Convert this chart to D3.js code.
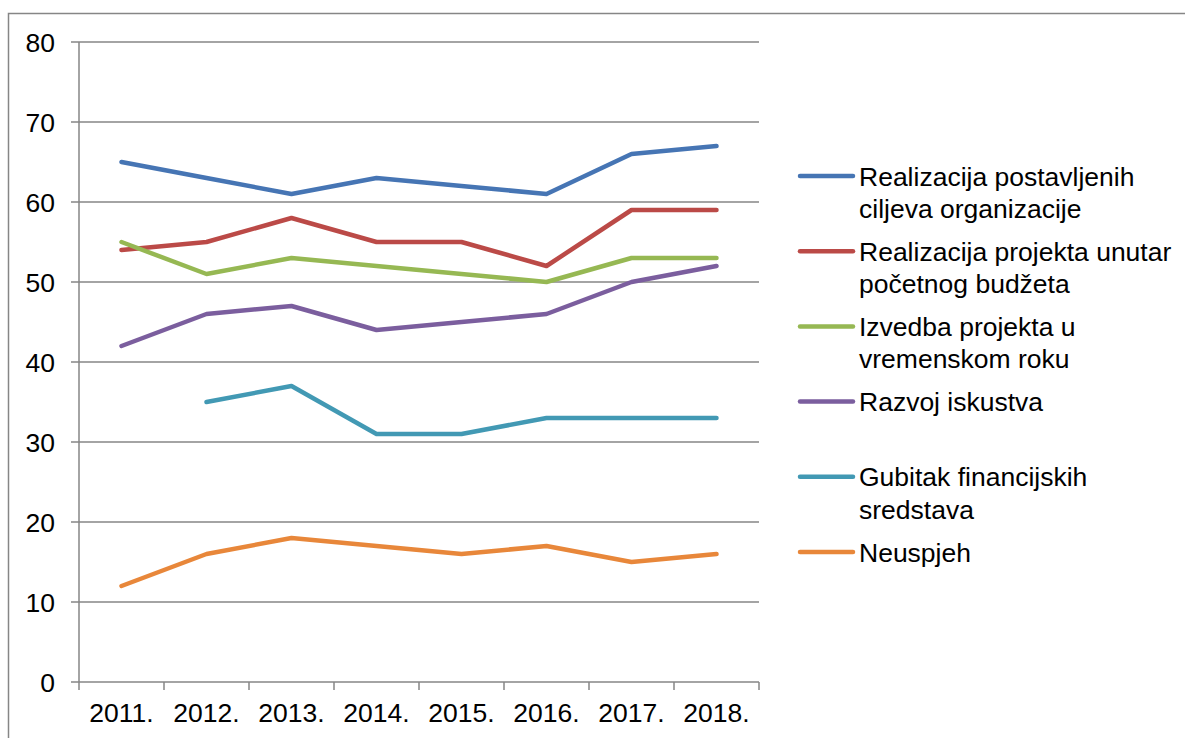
<!DOCTYPE html>
<html>
<head>
<meta charset="utf-8">
<script src="https://cdn.jsdelivr.net/npm/d3@7"></script>
<style>
  body { margin: 0; background: #fff; }
  text { font-family: "Liberation Sans", Arial, sans-serif; fill: #000; }
</style>
</head>
<body>
<svg id="chart" width="1185" height="738"></svg>
<script>
let years = ['2011.', '2012.', '2013.', '2014.', '2015.', '2016.', '2017.', '2018.'];
let yTicks = [0, 10, 20, 30, 40, 50, 60, 70, 80];

let ciljevi   = [65, 63, 61, 63, 62, 61, 66, 67];
let budzet    = [54, 55, 58, 55, 55, 52, 59, 59];
let rok       = [55, 51, 53, 52, 51, 50, 53, 53];
let iskustvo  = [42, 46, 47, 44, 45, 46, 50, 52];
let gubitak   = [null, 35, 37, 31, 31, 33, 33, 33];
let neuspjeh  = [12, 16, 18, 17, 16, 17, 15, 16];

let seriesNames = [
  ['Realizacija postavljenih', 'ciljeva organizacije'],
  ['Realizacija projekta unutar', 'početnog budžeta'],
  ['Izvedba projekta u', 'vremenskom roku'],
  ['Razvoj iskustva'],
  ['Gubitak financijskih', 'sredstava'],
  ['Neuspjeh']
];
let seriesValues = [ciljevi, budzet, rok, iskustvo, gubitak, neuspjeh];
let colors = ['#4675b4', '#bb4a47', '#96b853', '#7b5e9e', '#4299b4', '#e8873a'];

let svg = d3.select('#chart');
let plotLeft = 79, plotRight = 759, plotTop = 42, plotBottom = 682;
let fontSize = 26.5;

// outer frame, running off the bottom/right edge
svg.append('rect')
  .attr('x', 8.5).attr('y', 13.5)
  .attr('width', 1200).attr('height', 760)
  .attr('fill', 'none')
  .attr('stroke', '#868686')
  .attr('stroke-width', 1.5);

let x = d3.scaleBand().domain(years).range([plotLeft, plotRight]);
let y = d3.scaleLinear().domain([0, 80]).range([plotBottom, plotTop]);

// horizontal grid
svg.append('g')
  .selectAll('line')
  .data(yTicks)
  .join('line')
  .attr('x1', plotLeft - 8).attr('x2', plotRight)
  .attr('y1', d => y(d)).attr('y2', d => y(d))
  .attr('stroke', '#868686')
  .attr('stroke-width', 1.5);

// y axis line
svg.append('line')
  .attr('x1', plotLeft).attr('x2', plotLeft)
  .attr('y1', plotTop).attr('y2', plotBottom + 8)
  .attr('stroke', '#868686')
  .attr('stroke-width', 1.5);

// x ticks at band edges
let edges = years.map(d => x(d)).concat([plotRight]);
svg.append('g')
  .selectAll('line')
  .data(edges.slice(1))
  .join('line')
  .attr('x1', d => d).attr('x2', d => d)
  .attr('y1', plotBottom).attr('y2', plotBottom + 8)
  .attr('stroke', '#868686')
  .attr('stroke-width', 1.5);

// y labels
svg.append('g')
  .selectAll('text')
  .data(yTicks)
  .join('text')
  .attr('x', 55)
  .attr('y', d => y(d) + fontSize * 0.36)
  .attr('text-anchor', 'end')
  .attr('font-size', fontSize)
  .text(d => d);

// x labels
svg.append('g')
  .selectAll('text')
  .data(years)
  .join('text')
  .attr('x', d => x(d) + x.bandwidth() / 2)
  .attr('y', 722)
  .attr('text-anchor', 'middle')
  .attr('font-size', fontSize)
  .text(d => d);

// series lines
let line = d3.line()
  .defined(d => d.v !== null)
  .x(d => x(d.year) + x.bandwidth() / 2)
  .y(d => y(d.v));

seriesValues.forEach(function(vals, i) {
  svg.append('path')
    .datum(vals.map((v, j) => ({ year: years[j], v: v })))
    .attr('d', line)
    .attr('fill', 'none')
    .attr('stroke', colors[i])
    .attr('stroke-width', 4.5)
    .attr('stroke-linecap', 'round')
    .attr('stroke-linejoin', 'round');
});

// legend
let legend = svg.append('g');
seriesNames.forEach(function(lines, i) {
  let ly = 176 + i * 75.2;
  legend.append('line')
    .attr('x1', 800).attr('x2', 853)
    .attr('y1', ly).attr('y2', ly)
    .attr('stroke', colors[i])
    .attr('stroke-width', 4.5)
    .attr('stroke-linecap', 'round');
  lines.forEach(function(t, k) {
    legend.append('text')
      .attr('x', 859)
      .attr('y', ly + fontSize * 0.36 + k * 32.5)
      .attr('font-size', fontSize)
      .text(t);
  });
});
</script>
</body>
</html>
